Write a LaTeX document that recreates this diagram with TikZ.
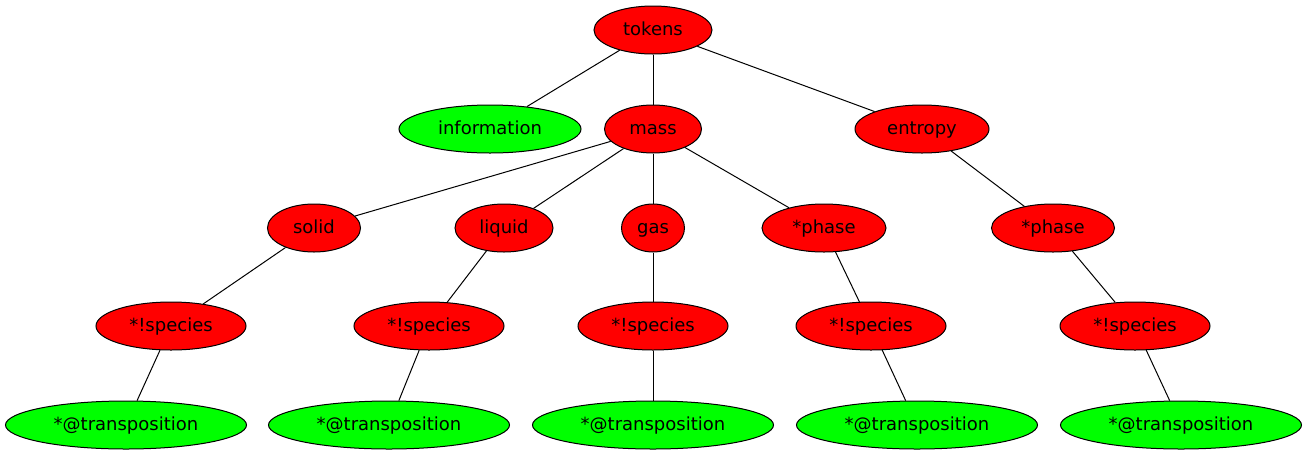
\documentclass[tikz,border=0pt]{standalone}
\usepackage{fontspec}
\setmainfont{DejaVu Sans}
\usetikzlibrary{shapes.geometric, positioning}
\tikzset{
    tree_node/.style={ellipse, draw=black, line width=1pt, minimum height=48pt, inner sep=0pt, text height=14pt, text depth=4pt, text centered, align=center, font=\fontsize{18}{22}\selectfont},
    red_node/.style={tree_node, fill=red},
    green_node/.style={tree_node, fill=green},
    edge_line/.style={line width=1pt},
}

\begin{document}
\begin{tikzpicture}[x=1pt, y=-1pt]
      \useasboundingbox (0,0) rectangle (1307,456);

      \node (tokens) at (653,30) [red_node, minimum width=118pt]{tokens};

      \node (info) at (490,129) [green_node, minimum width=182pt]{information};
      \node (mass) at (653,129) [red_node, minimum width=97pt]{mass};
      \node (entropy) at (922,129) [red_node, minimum width=134pt]{entropy};

      \node (solid) at (314,228) [red_node, minimum width=93pt]{solid};
      \node (liquid) at (504,228) [red_node, minimum width=98pt]{liquid};
      \node (gas) at (653,228) [red_node, minimum width=63pt]{gas};
      \node (m_phase) at (824,228) [red_node, minimum width=124pt]{*phase};
      \node (e_phase) at (1053,228) [red_node, minimum width=123pt]{*phase};

      \node (species_1) at (171,326) [red_node, minimum width=150pt]{*!species};
      \node (species_2) at (429,326) [red_node, minimum width=150pt]{*!species};
      \node (species_3) at (653,326) [red_node, minimum width=150pt]{*!species};
      \node (species_4) at (871,326) [red_node, minimum width=150pt]{*!species};
      \node (species_5) at (1135,326) [red_node, minimum width=150pt]{*!species};

      \node (trans_1) at (126,425) [green_node, minimum width=241pt]{*@transposition};
      \node (trans_2) at (389,425) [green_node, minimum width=241pt]{*@transposition};
      \node (trans_3) at (653,425) [green_node, minimum width=241pt]{*@transposition};
      \node (trans_4) at (917,425) [green_node, minimum width=241pt]{*@transposition};
      \node (trans_5) at (1181,425) [green_node, minimum width=241pt]{*@transposition};

      \draw [edge_line] (tokens) -- (info);
      \draw [edge_line] (tokens) -- (mass);
      \draw [edge_line] (tokens) -- (entropy);

      \draw [edge_line] (mass) -- (solid);
      \draw [edge_line] (mass) -- (liquid);
      \draw [edge_line] (mass) -- (gas);
      \draw [edge_line] (mass) -- (m_phase);
      \draw [edge_line] (entropy) -- (e_phase);

      \draw [edge_line] (solid) -- (species_1);
      \draw [edge_line] (liquid) -- (species_2);
      \draw [edge_line] (gas) -- (species_3);
      \draw [edge_line] (m_phase) -- (species_4);
      \draw [edge_line] (e_phase) -- (species_5);

      \draw [edge_line] (species_1) -- (trans_1);
      \draw [edge_line] (species_2) -- (trans_2);
      \draw [edge_line] (species_3) -- (trans_3);
      \draw [edge_line] (species_4) -- (trans_4);
      \draw [edge_line] (species_5) -- (trans_5);
   \end{tikzpicture}
\end{document}
